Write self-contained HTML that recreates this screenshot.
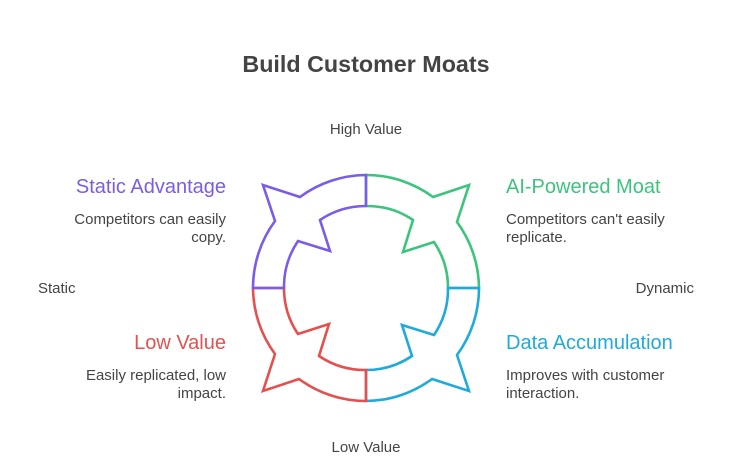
<!DOCTYPE html>
<html><head><meta charset="utf-8"><style>
html,body{margin:0;padding:0;background:#fff;}
body{width:732px;height:476px;overflow:hidden;position:relative;font-family:"Liberation Sans",sans-serif;}
</style></head><body>
<svg width="732" height="476" style="position:absolute;left:0;top:0">
<defs>
<path id="q" d="M0,-113 A113,113 0 0 1 67,-91 L103,-103 L91,-66 A113,113 0 0 1 113,0 L82,0 A82,82 0 0 0 68,-46 L37,-36 L47,-68 A82,82 0 0 0 0,-82 Z" fill="none" stroke-width="2.6" stroke-linejoin="miter"/>
</defs>
<g transform="translate(366,288)">
<use href="#q" stroke="#3cc47c"/>
<use href="#q" stroke="#1faadc" transform="rotate(90)"/>
<use href="#q" stroke="#e5504f" transform="rotate(180)"/>
<use href="#q" stroke="#7b5ce6" transform="rotate(270)"/>
</g>
<g font-family="Liberation Sans">
<text x="366" y="72" text-anchor="middle" font-weight="bold" font-size="23.3" fill="#444">Build Customer Moats</text>
<text x="366" y="134" text-anchor="middle" font-size="15" fill="#444">High Value</text>
<text x="366" y="452" text-anchor="middle" font-size="15" fill="#444">Low Value</text>
<text x="38" y="293" font-size="15" fill="#444">Static</text>
<text x="694" y="293" text-anchor="end" font-size="15" fill="#444">Dynamic</text>
<text x="226" y="193" text-anchor="end" font-size="20" fill="#7b5ce6">Static Advantage</text>
<text x="226" y="224" text-anchor="end" font-size="15" fill="#444">Competitors can easily</text>
<text x="226" y="242" text-anchor="end" font-size="15" fill="#444">copy.</text>
<text x="506" y="193" font-size="20" fill="#3cc47c">AI-Powered Moat</text>
<text x="506" y="224" font-size="15" fill="#444">Competitors can't easily</text>
<text x="506" y="242" font-size="15" fill="#444">replicate.</text>
<text x="226" y="349" text-anchor="end" font-size="20" fill="#e5504f">Low Value</text>
<text x="226" y="380" text-anchor="end" font-size="15" fill="#444">Easily replicated, low</text>
<text x="226" y="398" text-anchor="end" font-size="15" fill="#444">impact.</text>
<text x="506" y="349" font-size="20" fill="#1faadc">Data Accumulation</text>
<text x="506" y="380" font-size="15" fill="#444">Improves with customer</text>
<text x="506" y="398" font-size="15" fill="#444">interaction.</text>
</g>
</svg>
</body></html>
